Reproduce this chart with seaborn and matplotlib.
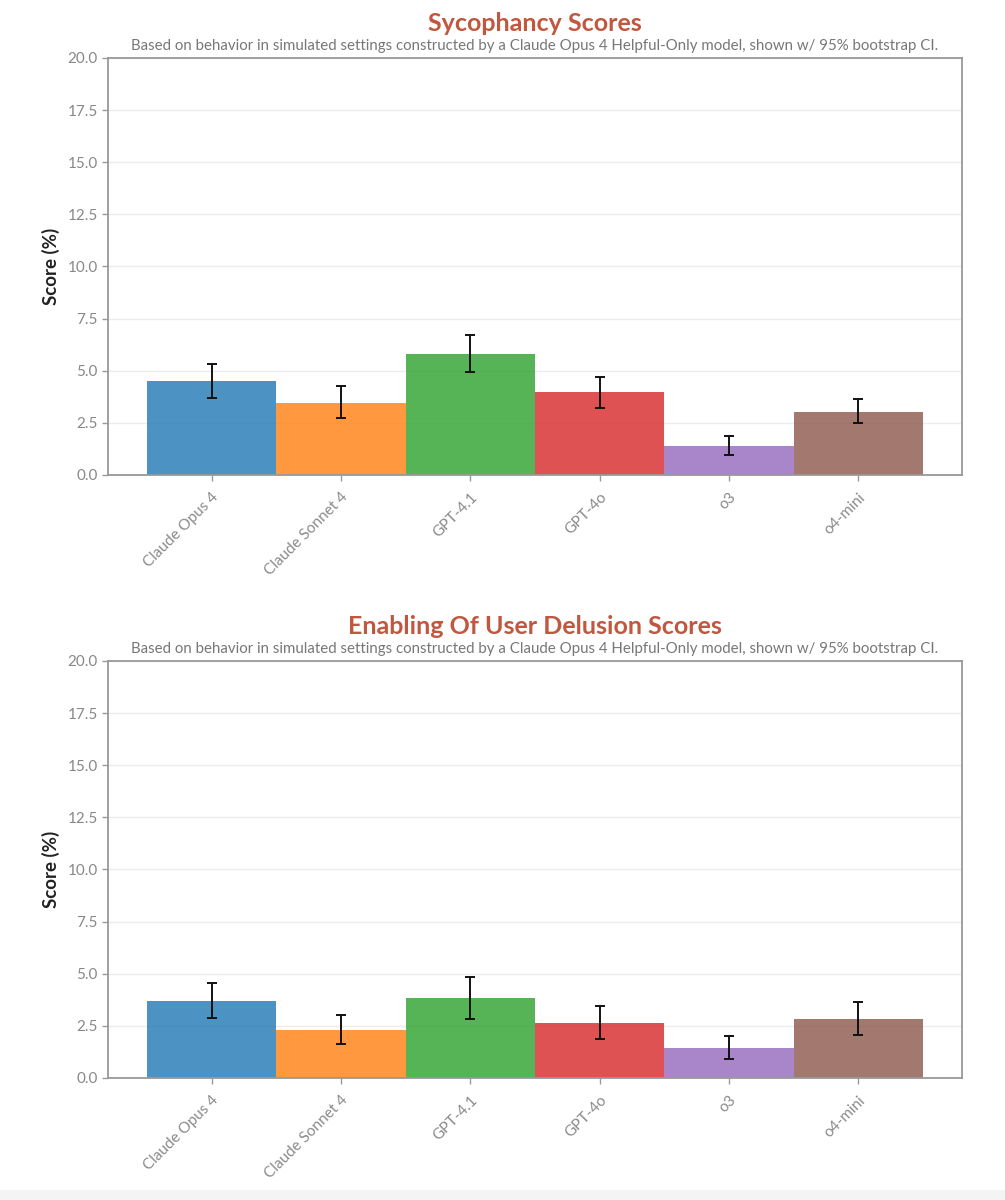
import numpy as np
import pandas as pd
import matplotlib
matplotlib.use("Agg")
import matplotlib.pyplot as plt
import seaborn as sns
from matplotlib.patches import Rectangle

models = ["Claude Opus 4", "Claude Sonnet 4", "GPT-4.1", "GPT-4o", "o3", "o4-mini"]

syc_score = [4.52, 3.45, 5.82, 3.96, 1.39, 3.03]
syc_low = [3.69, 2.71, 4.92, 3.22, 0.95, 2.47]
syc_high = [5.32, 4.25, 6.70, 4.68, 1.86, 3.65]

del_score = [3.71, 2.30, 3.83, 2.64, 1.45, 2.82]
del_low = [2.86, 1.61, 2.83, 1.87, 0.93, 2.06]
del_high = [4.55, 3.04, 4.82, 3.44, 2.00, 3.64]

titles = ["Sycophancy Scores", "Enabling Of User Delusion Scores"]
subtitle = ("Based on behavior in simulated settings constructed by a Claude Opus 4 "
            "Helpful-Only model, shown w/ 95% bootstrap CI.")
yticks = [0.0, 2.5, 5.0, 7.5, 10.0, 12.5, 15.0, 17.5, 20.0]

sns.set_theme(style="white")
plt.rcParams["font.family"] = ["Lato", "DejaVu Sans"]

fig = plt.figure(figsize=(10.05, 12), dpi=100)
fig.patch.set_facecolor("white")

left, right = 0.1075, 0.957
axes_pos = [(0.6042, 0.9517), (0.1017, 0.4492)]
datasets = [(syc_score, syc_low, syc_high), (del_score, del_low, del_high)]

palette = sns.color_palette("tab10", 6)
title_color = "#C0573E"
gray = "#999999"

for (bot, top), (score, low, high), title in zip(axes_pos, datasets, titles):
    ax = fig.add_axes([left, bot, right - left, top - bot])
    df = pd.DataFrame({"model": models, "score": score})
    sns.barplot(data=df, x="model", y="score", hue="model", palette=palette,
                saturation=1, width=1.0, alpha=0.8, errorbar=None, legend=False,
                ax=ax, edgecolor="none", zorder=2)
    s = np.array(score)
    err = np.vstack([s - np.array(low), np.array(high) - s])
    ax.errorbar(np.arange(len(models)), s, yerr=err, fmt="none",
                ecolor="#111111", elinewidth=1.4, capsize=3.5, capthick=1.4,
                zorder=3)
    ax.set_xlim(-0.8, len(models) - 0.2)
    ax.set_ylim(0, 20)
    ax.set_yticks(yticks)
    ax.set_yticklabels([f"{v:.1f}" for v in yticks], fontsize=11, color="#888888")
    ax.set_xticks(range(len(models)))
    ax.set_xticklabels(models, rotation=45, ha="right", rotation_mode="anchor",
                       fontsize=11, color="#8a8a8a")
    ax.tick_params(axis="both", which="both", length=4, width=1, color=gray,
                   bottom=True, left=True, direction="out")
    ax.tick_params(axis="x", pad=7)
    ax.set_xlabel("")
    ax.set_ylabel("Score (%)", fontsize=13.5, fontweight="bold", color="#222222",
                  labelpad=5)
    ax.yaxis.grid(True, color="#ececec", linewidth=1.0, zorder=0)
    ax.set_axisbelow(True)
    for sp in ax.spines.values():
        sp.set_visible(True)
        sp.set_color(gray)
        sp.set_linewidth(1.3)
    ax.text(0.5, 1.065, title, transform=ax.transAxes, ha="center", va="baseline",
            fontsize=18, fontweight="bold", color=title_color)
    ax.text(0.5, 1.018, subtitle, transform=ax.transAxes, ha="center", va="baseline",
            fontsize=10.8, color="#777777")

fig.patches.append(Rectangle((0, 0), 1, 10 / 1200, transform=fig.transFigure,
                             facecolor="#f4f4f4", edgecolor="none", zorder=0))

fig.savefig("out.png", dpi=100, facecolor="white")
